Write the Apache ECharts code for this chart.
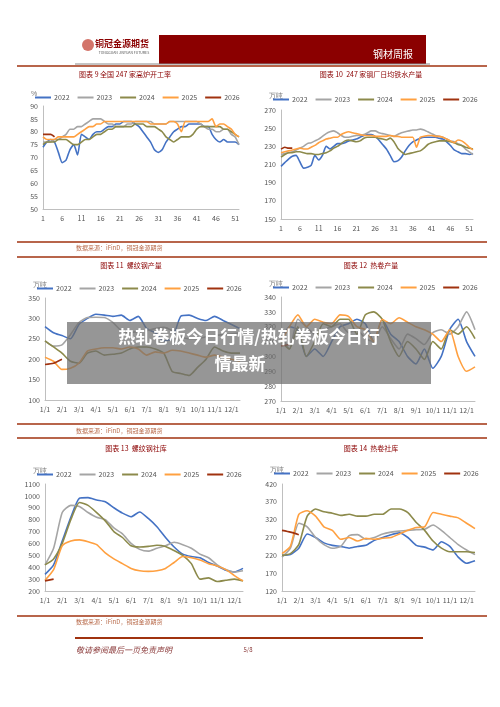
<!DOCTYPE html>
<html>
<head>
<meta charset="utf-8">
<script src="https://cdn.jsdelivr.net/npm/echarts@6/dist/echarts.min.js"></script>
<style>html,body{margin:0;padding:0;background:#fff}#main{width:500px;height:707px}</style>
</head>
<body>
<div id="main"></div>
<script>
// 年份与颜色
var years = ['2022', '2023', '2024', '2025', '2026'];
var colors = ['#4472c4', '#a5a5a5', '#8c8a4b', '#ffa040', '#a0320f'];

// 周序号 1..52 / 月份标签(每两周一个点)
var weeks = [];
for (var w = 1; w <= 52; w++) weeks.push(String(w));
var months = ['1/1','1/15','2/1','2/15','3/1','3/15','4/1','4/15','5/1','5/15','6/1','6/15',
  '7/1','7/15','8/1','8/15','9/1','9/15','10/1','10/15','11/1','11/15','12/1','12/15'];

// 图表9 全国247家高炉开工率 (%)
var rate2022 = [74,76,77,76,72,68,69,73,75,71,79,78,77,79,80,80,81,82,82,83,83,84,84,84,83,82,80,78,76,73,72,73,76,78,80,81,82,82,83,83,83,83,82,82,79,77,76,77,76,76,76,75];
var rate2023 = [76,76,76,77,77,78,79,81,81,82,82,83,84,85,85,85,84,83,83,82,82,82,83,83,84,84,84,84,84,83,83,83,83,84,84,84,84,84,84,84,84,83,82,81,81,80,80,81,81,79,78,75];
var rate2024 = [75,76,76,76,77,77,77,76,75,75,76,77,77,78,79,79,80,81,81,82,82,82,82,82,83,83,83,82,82,82,81,80,78,77,76,77,78,78,78,79,81,82,82,82,82,82,82,81,81,80,79,78];
var rate2025 = [78,77,77,77,78,78,78,78,78,79,80,81,82,82,83,83,84,84,84,84,84,84,84,84,84,84,84,84,83,83,83,83,83,84,84,83,80,84,84,84,84,84,84,84,85,82,83,83,82,81,79,78];
var rate2026 = [79,79,79,78];

// 图表10 247家钢厂日均铁水产量 (万吨)
var iron2022 = [208,212,216,219,220,213,206,207,209,220,215,220,230,227,230,233,233,234,236,237,238,240,242,243,243,241,237,232,227,220,213,214,218,225,231,235,237,239,240,240,240,240,239,238,235,231,226,224,222,222,221,222];
var iron2023 = [221,222,223,224,226,228,230,233,234,236,238,241,244,246,247,245,242,240,240,241,242,242,243,245,247,247,245,244,243,242,241,243,245,246,247,248,248,249,248,246,244,242,241,240,238,236,235,233,231,227,224,221];
var iron2024 = [218,221,223,223,224,224,223,222,222,221,221,222,223,225,228,230,233,236,237,236,235,236,239,240,240,240,239,238,237,239,235,228,224,221,222,223,224,225,228,232,234,235,236,236,236,235,234,232,231,229,228,227];
var iron2025 = [223,224,225,226,227,228,227,227,229,231,234,236,238,239,240,240,243,245,246,245,244,243,242,242,242,241,241,241,241,242,241,241,240,240,240,240,229,240,241,242,242,241,241,240,238,236,234,237,236,233,229,226];
var iron2026 = [227,229,228,228];

// 图表11 螺纹钢产量 (万吨)
var rebar2022 = [280,265,258,250,285,300,310,308,305,308,295,305,275,265,245,250,305,308,300,295,305,295,285,275];
var rebar2023 = [245,232,235,260,290,302,303,302,290,270,265,268,270,275,278,270,255,250,250,255,258,260,262,265];
var rebar2024 = [245,230,215,195,190,215,220,210,212,215,225,230,230,225,215,170,165,160,180,200,230,220,215,215];
var rebar2025 = [205,195,175,178,190,220,225,228,228,225,230,225,210,218,215,222,220,215,210,205,210,205,200,195];
var rebar2026 = [187,190,200];

// 图表12 热卷产量 (万吨)
var hrc2022 = [310,320,318,300,305,300,310,320,322,325,322,310,325,315,310,300,295,305,292,300,318,325,310,300];
var hrc2023 = [315,305,325,320,315,318,320,322,316,318,312,310,320,312,305,315,312,308,316,318,315,320,330,318];
var hrc2024 = [310,305,320,300,310,322,320,325,325,315,328,330,325,310,300,310,305,298,310,305,318,315,320,312];
var hrc2025 = [310,320,328,320,325,323,322,328,327,320,318,310,325,322,326,323,320,318,315,310,318,300,290,293];
var hrc2026 = [307,308];

// 图表13 螺纹钢社库 (万吨)
var rstock2022 = [340,420,620,820,980,985,965,950,900,855,825,865,810,740,650,570,510,490,480,440,410,375,360,390];
var rstock2023 = [420,560,860,920,910,860,820,800,730,680,600,550,535,560,580,610,590,560,510,480,420,380,360,370];
var rstock2024 = [420,470,600,800,945,920,860,790,700,650,580,570,575,585,575,540,500,430,300,310,280,290,300,285];
var rstock2025 = [290,380,580,620,630,615,590,520,470,430,390,370,365,370,390,440,490,480,460,430,410,380,330,285];
var rstock2026 = [285,300];

// 图表14 热卷社库 (万吨)
var hstock2022 = [220,222,240,280,270,255,248,245,240,245,248,262,270,278,283,270,248,243,235,258,245,215,198,205];
var hstock2023 = [215,240,310,300,270,250,240,245,275,278,265,270,280,285,288,290,292,293,305,290,270,250,235,222];
var hstock2024 = [220,225,250,330,350,342,338,332,335,330,330,335,335,350,350,340,312,290,260,240,230,230,230,228];
var hstock2025 = [225,245,335,345,330,300,290,265,270,260,268,265,268,270,280,290,298,300,340,335,330,325,310,295];
var hstock2026 = [290,285,278];

var charts = [
  {data: [rate2022, rate2023, rate2024, rate2025, rate2026], cat: weeks, step: 4, min: 50, max: 90, iv: 5,
    grid: {left: 43, top: 106, width: 196, height: 103}, unit: '%', legendTop: 94},
  {data: [iron2022, iron2023, iron2024, iron2025, iron2026], cat: weeks, step: 4, min: 150, max: 270, iv: 20,
    grid: {left: 281, top: 110, width: 192, height: 109}, unit: '万吨', legendTop: 96},
  {data: [rebar2022, rebar2023, rebar2024, rebar2025, rebar2026], cat: months, step: 1, min: 100, max: 350, iv: 50,
    grid: {left: 45, top: 298, width: 195, height: 102}, unit: '万吨', legendTop: 285},
  {data: [hrc2022, hrc2023, hrc2024, hrc2025, hrc2026], cat: months, step: 1, min: 270, max: 340, iv: 10,
    grid: {left: 281, top: 297, width: 194, height: 104}, unit: '万吨', legendTop: 284},
  {data: [rstock2022, rstock2023, rstock2024, rstock2025, rstock2026], cat: months, step: 1, min: 200, max: 1100, iv: 100,
    grid: {left: 45, top: 484, width: 198, height: 107}, unit: '万吨', legendTop: 471},
  {data: [hstock2022, hstock2023, hstock2024, hstock2025, hstock2026], cat: months, step: 1, min: 120, max: 420, iv: 50,
    grid: {left: 282, top: 484, width: 193, height: 107}, unit: '万吨', legendTop: 470}
];

var red = '#a0320f', dark = '#8b0000', font = '"Noto Sans CJK SC", sans-serif';
var grids = [], xAxes = [], yAxes = [], series = [], legends = [];
var g = [];

charts.forEach(function(c, i) {
  grids.push(c.grid);
  xAxes.push({type: 'category', gridIndex: i, data: c.cat, boundaryGap: false,
    axisLine: {lineStyle: {color: '#bfbfbf'}}, axisTick: {show: false},
    axisLabel: {interval: c.step, fontSize: 7, color: '#555', margin: 6}});
  yAxes.push({type: 'value', gridIndex: i, min: c.min, max: c.max, interval: c.iv,
    axisLine: {show: true, lineStyle: {color: '#bfbfbf'}}, splitLine: {show: false},
    axisLabel: {fontSize: 7, color: '#555', margin: 5, formatter: function(v) { return String(v); }}});
  legends.push({data: years, left: c.grid.left - 8, top: c.legendTop, width: 240, itemWidth: 16, itemHeight: 2,
    itemGap: 8, icon: 'rect', padding: 0, textStyle: {fontSize: 7, color: '#555', padding: [0, 0, 0, -2]}});
  c.data.forEach(function(d, k) {
    series.push({type: 'line', name: years[k], xAxisIndex: i, yAxisIndex: i, data: d,
      symbol: 'none', smooth: 0.2, lineStyle: {width: 1.6, color: colors[k]}, itemStyle: {color: colors[k]}});
  });
  g.push({type: 'text', left: c.grid.left - 12, top: c.legendTop - 3,
    style: {text: c.unit, fontSize: 7, fill: '#777', font: '7px ' + font}});
});

function hline(x1, x2, y, w) {
  g.push({type: 'line', shape: {x1: x1, y1: y, x2: x2, y2: y}, style: {stroke: red, lineWidth: w}});
}
function txt(x, y, s, size, color, align, extra) {
  g.push({type: 'text', x: x, y: y, style: {text: s, fill: color, align: align || 'center',
    verticalAlign: 'middle', font: (extra || '') + size + 'px ' + font}});
}

// 页眉
g.push({type: 'rect', shape: {x: 159, y: 35, width: 267, height: 29}, style: {fill: dark}});
g.push({type: 'line', shape: {x1: 75, y1: 64, x2: 430, y2: 64}, style: {stroke: '#888', lineWidth: 1}});
txt(393, 54, '钢材周报', 10, '#fff');
txt(122, 44, '铜冠金源期货', 9, dark, 'center', 'bold ');
txt(124, 53, 'TONGGUAN JINYUAN FUTURES', 3.5, '#555');
g.push({type: 'circle', shape: {cx: 88, cy: 45, r: 6}, style: {fill: '#c0392b', opacity: 0.7}});
hline(17, 487, 66, 1.5);

// 标题
txt(125, 74, '图表 9 全国 247 家高炉开工率', 7, dark);
txt(371, 74, '图表 10  247 家钢厂日均铁水产量', 7, dark);
txt(131, 265, '图表 11  螺纹钢产量', 7, dark);
txt(371, 265, '图表 12  热卷产量', 7, dark);
txt(136, 448, '图表 13  螺纹钢社库', 7, dark);
txt(371, 448, '图表 14  热卷社库', 7, dark);

// 数据来源与分隔线
hline(17, 487, 242, 1.5);
txt(76, 248, '数据来源：iFinD，铜冠金源期货', 6, '#b86a4a', 'left');
hline(17, 487, 257, 1.5);
hline(17, 487, 424, 1.5);
txt(76, 431, '数据来源：iFinD，铜冠金源期货', 6, '#b86a4a', 'left');
hline(17, 487, 438, 1.5);
hline(17, 487, 616, 1.5);
txt(76, 622, '数据来源：iFinD，铜冠金源期货', 6, '#b86a4a', 'left');
hline(75, 423, 638, 2);
txt(76, 650, '敬请参阅最后一页免责声明', 8, '#8b3a3a', 'left', 'italic ');
txt(248, 650, '5/8', 6, '#8b3a3a');

// 覆盖层
g.push({type: 'rect', z: 100, shape: {x: 67, y: 322, width: 364, height: 62}, style: {fill: 'rgba(110,110,110,0.72)'}});
g.push({type: 'text', z: 101, x: 249, y: 337, style: {text: '热轧卷板今日行情/热轧卷板今日行', fill: '#fff',
  align: 'center', verticalAlign: 'middle', font: 'bold 17px ' + font}});
g.push({type: 'text', z: 101, x: 240, y: 364, style: {text: '情最新', fill: '#fff',
  align: 'center', verticalAlign: 'middle', font: 'bold 17px ' + font}});

var chart = echarts.init(document.getElementById('main'));
chart.setOption({
  animation: false,
  textStyle: {fontFamily: font},
  color: colors,
  grid: grids, xAxis: xAxes, yAxis: yAxes, legend: legends, series: series,
  graphic: g
});
</script>
</body>
</html>
